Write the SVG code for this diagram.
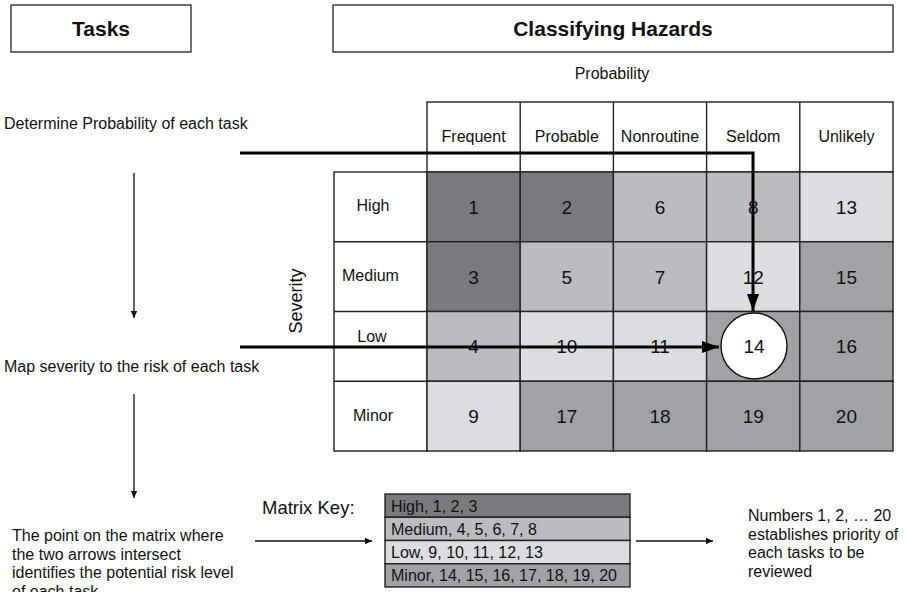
<svg xmlns="http://www.w3.org/2000/svg" width="907" height="592" viewBox="0 0 907 592">
  <defs>
    <style>
      text { font-family: "Liberation Sans", Arial, sans-serif; fill: #111; }
      .title { font-size: 21px; font-weight: bold; text-anchor: middle; }
      .body { font-size: 16px; }
      .hdr { font-size: 16px; text-anchor: middle; }
      .num { font-size: 19px; text-anchor: middle; }
      .box { fill: #fff; stroke: #222; stroke-width: 1.3; }
      .grid { stroke: #222; stroke-width: 1.4; fill: none; }
      .c1 { fill: #797a7e; }
      .c2 { fill: #bbbcbf; }
      .c3 { fill: #dcdde0; }
      .c4 { fill: #a1a2a5; }
      .cellb { stroke: #222; stroke-width: 1.4; }
      .thin { stroke: #111; stroke-width: 1.3; fill: none; }
      .thick { stroke: #000; stroke-width: 3; fill: none; }
    </style>
    <marker id="ah-small" markerWidth="8" markerHeight="8" refX="7" refY="4" orient="auto" markerUnits="userSpaceOnUse">
      <path d="M0,0.8 L7,4 L0,7.2 Z" fill="#111"/>
    </marker>
    <marker id="ah-big" markerWidth="18" markerHeight="12" refX="17" refY="6" orient="auto" markerUnits="userSpaceOnUse">
      <path d="M0,0 L17,6 L0,12 Z" fill="#000"/>
    </marker>
  </defs>

  <rect width="907" height="592" fill="#fff"/>

  <!-- heading boxes -->
  <g id="tasks-title">
    <rect class="box" x="11" y="5" width="180" height="47"/>
    <text class="title" x="101" y="36">Tasks</text>
  </g>
  <g id="hazards-title">
    <rect class="box" x="333" y="5" width="560" height="47"/>
    <text class="title" x="613" y="36">Classifying Hazards</text>
  </g>

  <!-- left column steps -->
  <g id="step-probability">
    <text class="body" x="4" y="129">Determine Probability of each task</text>
  </g>
  <g id="step-severity">
    <text class="body" x="4" y="372">Map severity to the risk of each task</text>
  </g>
  <g id="step-intersect">
    <text class="body" x="12" y="541">The point on the matrix where</text>
    <text class="body" x="12" y="559.5">the two arrows intersect</text>
    <text class="body" x="12" y="578">identifies the potential risk level</text>
    <text class="body" x="12" y="596.5">of each task</text>
  </g>

  <!-- risk matrix -->
  <g id="matrix">
    <text class="hdr" x="612" y="79">Probability</text>
    <text class="hdr" style="font-size:18px" transform="translate(302,301) rotate(-90)">Severity</text>

    <!-- probability header -->
    <rect class="grid" x="427" y="102" width="466" height="70" fill="#fff"/>
    <line class="grid" x1="520.2" y1="102" x2="520.2" y2="172"/>
    <line class="grid" x1="613.4" y1="102" x2="613.4" y2="172"/>
    <line class="grid" x1="706.6" y1="102" x2="706.6" y2="172"/>
    <line class="grid" x1="799.8" y1="102" x2="799.8" y2="172"/>
    <text class="hdr" x="473.6" y="142">Frequent</text>
    <text class="hdr" x="566.8" y="142">Probable</text>
    <text class="hdr" x="660" y="142">Nonroutine</text>
    <text class="hdr" x="753.2" y="142">Seldom</text>
    <text class="hdr" x="846.4" y="142">Unlikely</text>

    <!-- severity labels -->
    <rect class="grid" x="334" y="172" width="93" height="279" fill="#fff"/>
    <line class="grid" x1="334" y1="241.75" x2="427" y2="241.75"/>
    <line class="grid" x1="334" y1="311.5" x2="427" y2="311.5"/>
    <line class="grid" x1="334" y1="381.25" x2="427" y2="381.25"/>
    <text class="hdr" x="373" y="211">High</text>
    <text class="body" x="342" y="281">Medium</text>
    <text class="hdr" x="372" y="342">Low</text>
    <text class="body" x="353" y="421">Minor</text>

    <!-- cells: row High -->
    <rect class="c1 cellb" x="427" y="172" width="93.2" height="69.75"/>
    <rect class="c1 cellb" x="520.2" y="172" width="93.2" height="69.75"/>
    <rect class="c2 cellb" x="613.4" y="172" width="93.2" height="69.75"/>
    <rect class="c2 cellb" x="706.6" y="172" width="93.2" height="69.75"/>
    <rect class="c3 cellb" x="799.8" y="172" width="93.2" height="69.75"/>
    <!-- row Medium -->
    <rect class="c1 cellb" x="427" y="241.75" width="93.2" height="69.75"/>
    <rect class="c2 cellb" x="520.2" y="241.75" width="93.2" height="69.75"/>
    <rect class="c2 cellb" x="613.4" y="241.75" width="93.2" height="69.75"/>
    <rect class="c3 cellb" x="706.6" y="241.75" width="93.2" height="69.75"/>
    <rect class="c4 cellb" x="799.8" y="241.75" width="93.2" height="69.75"/>
    <!-- row Low -->
    <rect class="c2 cellb" x="427" y="311.5" width="93.2" height="69.75"/>
    <rect class="c3 cellb" x="520.2" y="311.5" width="93.2" height="69.75"/>
    <rect class="c3 cellb" x="613.4" y="311.5" width="93.2" height="69.75"/>
    <rect class="c4 cellb" x="706.6" y="311.5" width="93.2" height="69.75"/>
    <rect class="c4 cellb" x="799.8" y="311.5" width="93.2" height="69.75"/>
    <!-- row Minor -->
    <rect class="c3 cellb" x="427" y="381.25" width="93.2" height="69.75"/>
    <rect class="c4 cellb" x="520.2" y="381.25" width="93.2" height="69.75"/>
    <rect class="c4 cellb" x="613.4" y="381.25" width="93.2" height="69.75"/>
    <rect class="c4 cellb" x="706.6" y="381.25" width="93.2" height="69.75"/>
    <rect class="c4 cellb" x="799.8" y="381.25" width="93.2" height="69.75"/>

    <text class="num" x="473.6" y="214">1</text>
    <text class="num" x="566.8" y="214">2</text>
    <text class="num" x="660" y="214">6</text>
    <text class="num" x="753.2" y="214">8</text>
    <text class="num" x="846.4" y="214">13</text>
    <text class="num" x="473.6" y="283.5">3</text>
    <text class="num" x="566.8" y="283.5">5</text>
    <text class="num" x="660" y="283.5">7</text>
    <text class="num" x="753.2" y="283.5">12</text>
    <text class="num" x="846.4" y="283.5">15</text>
    <text class="num" x="473.6" y="353.3">4</text>
    <text class="num" x="566.8" y="353.3">10</text>
    <text class="num" x="660" y="353.3">11</text>
    <text class="num" x="846.4" y="353.3">16</text>
    <text class="num" x="473.6" y="423">9</text>
    <text class="num" x="566.8" y="423">17</text>
    <text class="num" x="660" y="423">18</text>
    <text class="num" x="753.2" y="423">19</text>
    <text class="num" x="846.4" y="423">20</text>
  </g>

  <!-- the highlighted cell -->
  <g id="result-14">
    <circle cx="754" cy="346" r="33" fill="#fff" stroke="#111" stroke-width="1.4"/>
    <text class="num" x="754" y="353">14</text>
  </g>

  <!-- matrix key -->
  <g id="matrix-key">
    <text class="body" style="font-size:18.5px" x="262" y="514">Matrix Key:</text>
    <rect class="c1 cellb" x="385" y="494" width="245" height="23.25"/>
    <rect class="c2 cellb" x="385" y="517.25" width="245" height="23.25"/>
    <rect class="c3 cellb" x="385" y="540.5" width="245" height="23.25"/>
    <rect class="c4 cellb" x="385" y="563.75" width="245" height="23.25"/>
    <text class="body" x="391" y="511.5">High, 1, 2, 3</text>
    <text class="body" x="391" y="534.75">Medium, 4, 5, 6, 7, 8</text>
    <text class="body" x="391" y="558">Low, 9, 10, 11, 12, 13</text>
    <text class="body" x="391" y="581.25">Minor, 14, 15, 16, 17, 18, 19, 20</text>
  </g>

  <g id="priority-note">
    <text class="body" x="748" y="521">Numbers 1, 2, … 20</text>
    <text class="body" x="748" y="539.5">establishes priority of</text>
    <text class="body" x="748" y="558">each tasks to be</text>
    <text class="body" x="748" y="576.5">reviewed</text>
  </g>

  <!-- connectors -->
  <g id="connectors">
    <path class="thick" d="M240,153 H753 V311" marker-end="url(#ah-big)"/>
    <path class="thick" d="M240,347 H719" marker-end="url(#ah-big)"/>
    <line class="thin" x1="134" y1="173" x2="134" y2="318" marker-end="url(#ah-small)"/>
    <line class="thin" x1="134" y1="394" x2="134" y2="498" marker-end="url(#ah-small)"/>
    <line class="thin" x1="255" y1="541" x2="372" y2="541" marker-end="url(#ah-small)"/>
    <line class="thin" x1="636" y1="541" x2="713" y2="541" marker-end="url(#ah-small)"/>
  </g>
</svg>
